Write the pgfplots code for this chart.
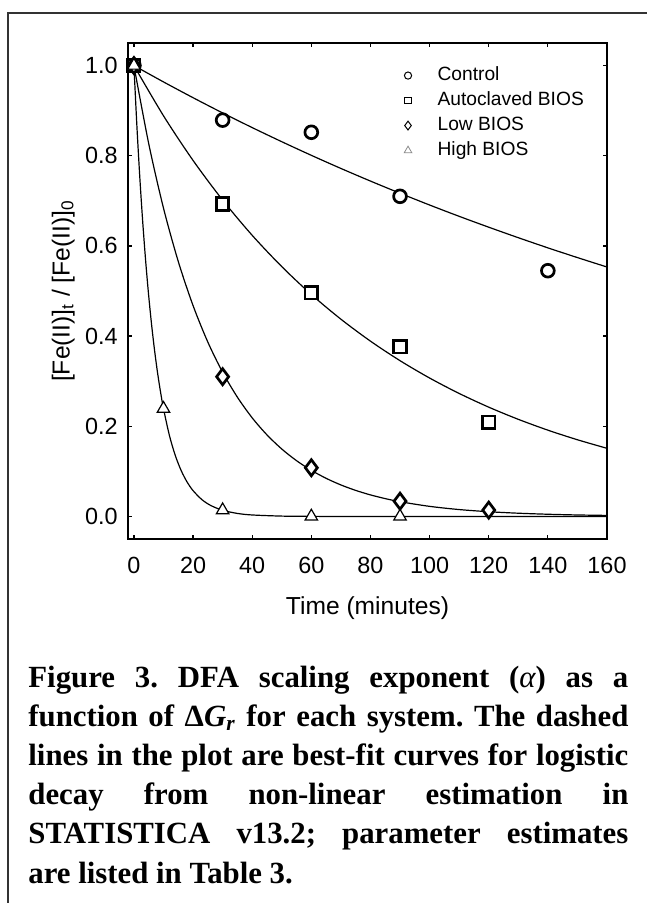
\documentclass[border=0pt]{standalone}
\usepackage{pgfplots}
\pgfplotsset{compat=1.18}
\usepackage{fontspec}
\setmainfont{Liberation Sans}
\newfontfamily\capfont{Liberation Serif}

\begin{document}
\begin{tikzpicture}[x=1pt,y=1pt]
\path[use as bounding box, fill=white] (0,0) rectangle (323.5,-451.5);
\draw[line width=0.7pt, black!80] (4,-451.5) -- (4,-6.5) -- (323.5,-6.5);
\begin{axis}[
    at={(64pt,-269.5pt)}, anchor=south west,
    scale only axis, width=239.5pt, height=248pt,
    xmin=-2, xmax=160, ymin=-0.05, ymax=1.05,
    xtick={0,20,40,60,80,100,120,140,160},
    ytick={0,0.2,0.4,0.6,0.8,1.0},
    tick align=inside, major tick length=2.2pt,
    axis line style={line width=0.7pt},
    every tick/.style={black, line width=0.6pt},
    /pgf/number format/assume math mode=true,
    tick label style={font=\fontsize{11.7}{13}\selectfont},
    yticklabel style={/pgf/number format/fixed, /pgf/number format/fixed zerofill, /pgf/number format/precision=1, xshift=-1.6pt},
    xticklabel style={yshift=-5.6pt},
    label style={font=\fontsize{12.3}{14}\selectfont},
    xlabel={Time (minutes)},
    ylabel={[Fe(II)]\textsubscript{t} / [Fe(II)]\textsubscript{0}},
    xlabel style={at={(axis description cs:0.5,-0.14)}, anchor=center},
    ylabel style={at={(axis description cs:-0.135,0.5)}, anchor=center},
    legend image code/.code={\path[draw=none, fill=none] (-14pt,0pt) -- (0pt,0pt); \draw[#1] plot coordinates {(-7pt,0pt)};},
    legend style={at={(axis description cs:0.542,0.965)}, anchor=north west, draw=none, fill=none,
        font=\fontsize{9.6}{11}\selectfont, row sep=1.7pt, column sep=0pt,
        nodes={inner sep=0.8pt, text height=7pt, text depth=2.2pt}},
    legend cell align=left,
]
% fitted curves
\addplot[smooth, line width=0.6pt, forget plot] coordinates {(0,1) (10,0.9637) (20,0.9287) (30,0.8949) (40,0.8624) (50,0.8311) (60,0.8009) (70,0.7718) (80,0.7438) (90,0.7168) (100,0.6907) (110,0.6656) (120,0.6415) (130,0.6182) (140,0.5957) (150,0.5741) (160,0.5532)};
\addplot[smooth, line width=0.6pt, forget plot] coordinates {(0,1) (10,0.8886) (20,0.7896) (30,0.7017) (40,0.6235) (50,0.5541) (60,0.4923) (70,0.4375) (80,0.3888) (90,0.3455) (100,0.3070) (110,0.2728) (120,0.2424) (130,0.2154) (140,0.1914) (150,0.1701) (160,0.1511)};
\addplot[smooth, line width=0.6pt, forget plot] coordinates {(0,1) (5,0.8270) (10,0.6839) (15,0.5655) (20,0.4677) (25,0.3867) (30,0.3198) (35,0.2645) (40,0.2187) (45,0.1809) (50,0.1496) (55,0.1237) (60,0.1023) (65,0.0846) (70,0.0699) (75,0.0578) (80,0.0478) (85,0.0396) (90,0.0327) (100,0.0224) (110,0.0153) (120,0.0105) (130,0.0072) (140,0.0049) (150,0.0033) (160,0.0023)};
\addplot[smooth, line width=0.6pt, forget plot] coordinates {(0,1) (1,0.8668) (2,0.7513) (3,0.6512) (4,0.5644) (5,0.4892) (6,0.4240) (7,0.3675) (8,0.3185) (9,0.2761) (10,0.2393) (12,0.1798) (14,0.1351) (16,0.1015) (18,0.0762) (20,0.0573) (23,0.0373) (26,0.0243) (30,0.0137) (35,0.0067) (40,0.0033) (50,0.0008) (60,0.0002) (80,0) (160,0)};
% measured points
\addplot[only marks, mark=*, mark size=3.2pt, mark options={line width=1.35pt, draw=black, fill=white}, forget plot] coordinates {(0,1.0) (30,0.879) (60,0.852) (90,0.710) (140,0.545)};
\addplot[only marks, mark=square*, mark size=3.1pt, mark options={line width=1.35pt, draw=black, fill=white}, forget plot] coordinates {(0,1.0) (30,0.693) (60,0.496) (90,0.376) (120,0.209)};
\addplot[only marks, mark=diamond*, mark size=4pt, mark options={line width=1.35pt, draw=black, fill=white}, forget plot] coordinates {(0,1.0) (30,0.310) (60,0.108) (90,0.034) (120,0.014)};
\addplot[only marks, mark=triangle*, mark size=3.6pt, mark options={line width=0.6pt, draw=black, fill=white}, forget plot] coordinates {(0,1.0) (10,0.239) (30,0.014) (60,0.0) (90,0.0)};
% legend
\addlegendimage{only marks, mark=o, mark size=1.8pt, mark options={line width=0.5pt, black}}
\addlegendentry{\hspace{7pt}Control}
\addlegendimage{only marks, mark=square, mark size=1.7pt, mark options={line width=0.5pt, black}}
\addlegendentry{\hspace{7pt}Autoclaved BIOS}
\addlegendimage{only marks, mark=diamond, mark size=2.2pt, mark options={line width=0.5pt, black}}
\addlegendentry{\hspace{7pt}Low BIOS}
\addlegendimage{only marks, mark=triangle, mark size=2.2pt, mark options={line width=0.4pt, black!45}}
\addlegendentry{\hspace{7pt}High BIOS}
\end{axis}
\begin{scope}[every node/.style={anchor=base west, inner sep=0pt, font=\capfont\bfseries\fontsize{15.4}{20}\selectfont\frenchspacing}]
\node at (14,-343.5) {\makebox[300pt][s]{Figure 3. DFA scaling exponent ({\mdseries\itshape α}) as a}};
\node at (14,-363.1) {\makebox[300pt][s]{function of Δ\textit{G}\textsubscript{\textit{r}} for each system. The dashed}};
\node at (14,-382.7) {\makebox[300pt][s]{lines in the plot are best-fit curves for logistic}};
\node at (14,-402.3) {\makebox[300pt][s]{decay from non-linear estimation in}};
\node at (14,-421.9) {\makebox[300pt][s]{STATISTICA v13.2; parameter estimates}};
\node at (14,-441.5) {are listed in Table 3.};
\end{scope}
\end{tikzpicture}
\end{document}
